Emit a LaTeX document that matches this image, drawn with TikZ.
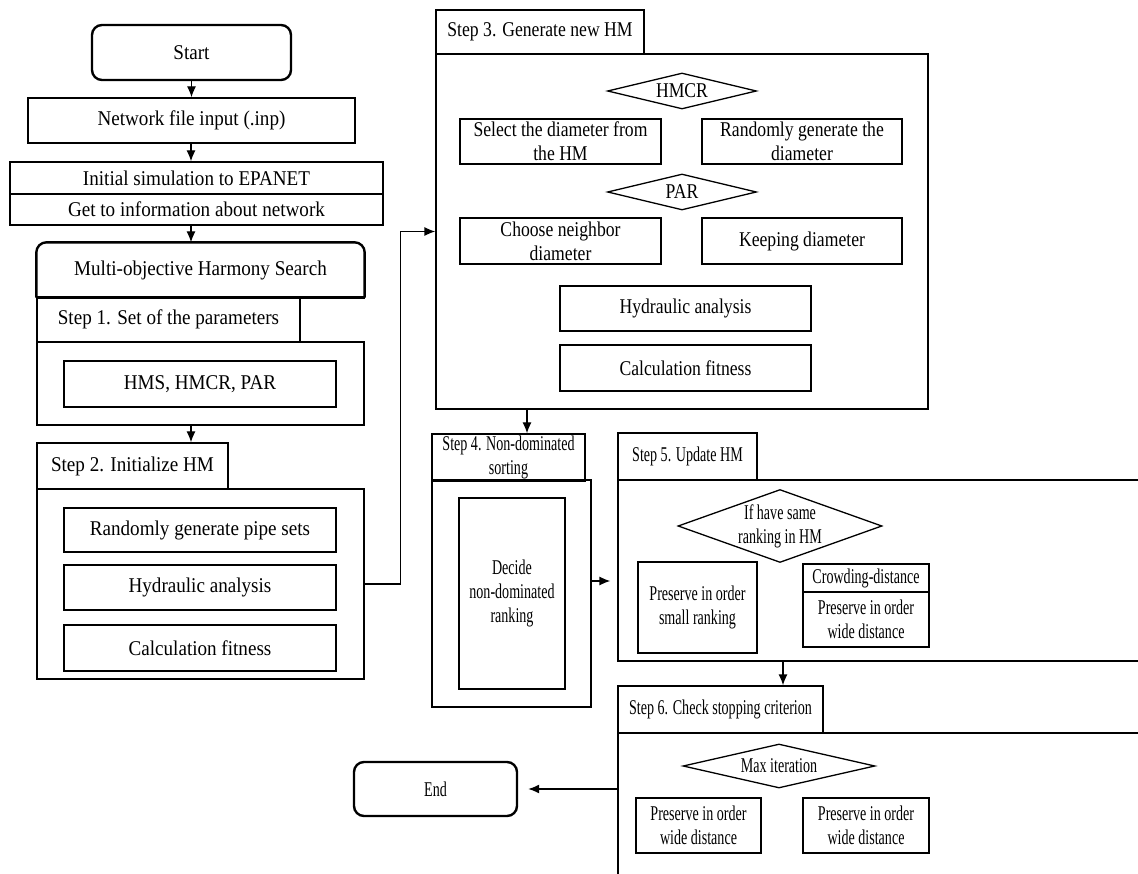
\documentclass[tikz,border=0pt]{standalone}
\usepackage{fontspec}
\setmainfont{Liberation Serif}[FakeStretch=0.91]
\newfontfamily\midfont{Liberation Serif}[FakeStretch=0.84]
\newfontfamily\lowfont{Liberation Serif}[FakeStretch=0.67]
\usetikzlibrary{arrows.meta,shapes.geometric}

\tikzset{
  box/.style={draw,rectangle,align=center,inner sep=0pt},
  term/.style={box,rounded corners=10pt,line width=2.4pt},
  dec/.style={draw,diamond,inner sep=0pt},
  wh/.style 2 args={minimum width=#1pt,minimum height=#2pt},
  midf/.style={font=\midfont\fontsize{21}{24}\selectfont},
  lowf/.style={font=\lowfont\fontsize{21}{24}\selectfont}
}

\begin{document}
\begin{tikzpicture}[x=1pt,y=-1pt,>={Latex[length=11pt,width=9pt]},line width=1.3pt,
  font=\fontsize{21}{24}\selectfont]

\useasboundingbox (0,0) rectangle (1138,874);
\clip (0,0) rectangle (1138,874);

% left column
\node[term, wh={199}{55}] (start) at (191.5,52.5) {Start};
\node[box, wh={327}{45}] (net) at (191.5,120.5) {Network file input (.inp)};
\node[box, wh={373}{32}] (init) at (196.5,178) {Initial simulation to EPANET};
\node[box, wh={373}{31}] (info) at (196.5,209.5) {Get to information about network};
\node[align=center, inner sep=0pt, wh={327}{54}] (mohs) at (200.5,270) {Multi-objective Harmony Search};
\draw[line width=2.4pt, rounded corners=10pt] (mohs.south west) -- (mohs.north west) -- (mohs.north east) -- (mohs.south east);
\draw[line width=2.4pt] (mohs.south west) -- (mohs.south east);

% step 1
\node[box, wh={263}{45}] (s1t) at (168.5,319.5) {Step 1. Set of the parameters};
\node[box, wh={327}{83}] (s1b) at (200.5,383.5) {};
\node[box, wh={272}{46}] (hms) at (200,384) {HMS, HMCR, PAR};

% step 2
\node[box, wh={191}{46}] (s2t) at (132.5,466) {Step 2. Initialize HM};
\node[box, wh={327}{190}] (s2b) at (200.5,584) {};
\node[box, wh={272}{44}] (rnd) at (200,530) {Randomly generate pipe sets};
\node[box, wh={272}{45}] (hyd1) at (200,587.5) {Hydraulic analysis};
\node[box, wh={272}{46}] (fit1) at (200,648) {Calculation fitness};

\node[term, lowf, wh={163}{54}] (end) at (435.5,789) {End};

% step 3
\node[box, midf, wh={208}{44}] (s3t) at (540,32) {Step 3. Generate new HM};
\node[box, wh={492}{355}] (s3b) at (682,231.5) {};
\node[dec, wh={149}{36}, label={[midf]center:HMCR}] (hmcr) at (682,91) {};
\node[box, midf, wh={201}{45}] (sel) at (560.5,141.5) {Select the diameter from\\the HM};
\node[box, midf, wh={200}{45}] (rgen) at (802,141.5) {Randomly generate the\\diameter};
\node[dec, wh={149}{36}, label={[midf]center:PAR}] (par) at (682,192) {};
\node[box, midf, wh={201}{46}] (nbr) at (560.5,241) {Choose neighbor\\diameter};
\node[box, midf, wh={200}{46}] (keep) at (802,241) {Keeping diameter};
\node[box, midf, wh={251}{45}] (hyd2) at (685.5,308.5) {Hydraulic analysis};
\node[box, midf, wh={251}{46}] (fit2) at (685.5,368) {Calculation fitness};

% step 4
\node[box, lowf, wh={153}{47}] (s4t) at (508.5,457.5) {Step 4. Non-dominated\\sorting};
\node[box, wh={159}{227}] (s4b) at (511.5,593.5) {};
\node[box, lowf, wh={106}{191}] (rank) at (512,593.5) {Decide\\non-dominated\\ranking};

% step 5
\node[box, lowf, wh={139}{47}] (s5t) at (687.5,456.5) {Step 5. Update HM};
\node[box, wh={542}{181}] (s5b) at (889,570.5) {};
\node[dec, wh={204}{73}, label={[lowf,align=center]center:If have same\\ranking in HM}] (same) at (780,526) {};
\node[box, lowf, wh={119}{91}] (small) at (697.5,607.5) {Preserve in order\\small ranking};
\node[box, lowf, wh={126}{28}] (crowd) at (866,578) {Crowding-distance};
\node[box, lowf, wh={126}{55}] (wide1) at (866,619.5) {Preserve in order\\wide distance};

% step 6
\node[box, lowf, wh={205}{47}] (s6t) at (720.5,709.5) {Step 6. Check stopping criterion};
\node[box, wh={542}{167}] (s6b) at (889,816.5) {};
\node[dec, wh={192}{44}, label={[lowf]center:Max iteration}] (maxit) at (779,766) {};
\node[box, lowf, wh={125}{55}] (wide2) at (698.5,825.5) {Preserve in order\\wide distance};
\node[box, lowf, wh={126}{55}] (wide3) at (866,825.5) {Preserve in order\\wide distance};

% connectors
\coordinate (lx) at (191,0);
\coordinate (dx) at (527,0);
\coordinate (ux) at (783,0);
\draw[->] (start) -- (net);
\draw[->] (lx |- net.south) -- (lx |- init.north);
\draw[->] (lx |- info.south) -- (lx |- mohs.north);
\draw[->] (lx |- s1b.south) -- (lx |- s2t.north);
\draw[->] (s2b.east) -- ++(36,0) |- (s3b.west);
\draw[->] (dx |- s3b.south) -- (dx |- s4t.north);
\draw[->, shorten >=7pt] ([yshift=12.5pt]s4b.east) -- ([yshift=12.5pt]s4b.east -| s5b.west);
\draw[->] (ux |- s5b.south) -- (ux |- s6t.north);
\draw[->, shorten >=10pt] (s6b.west |- end.east) -- (end.east);
\end{tikzpicture}
\end{document}
